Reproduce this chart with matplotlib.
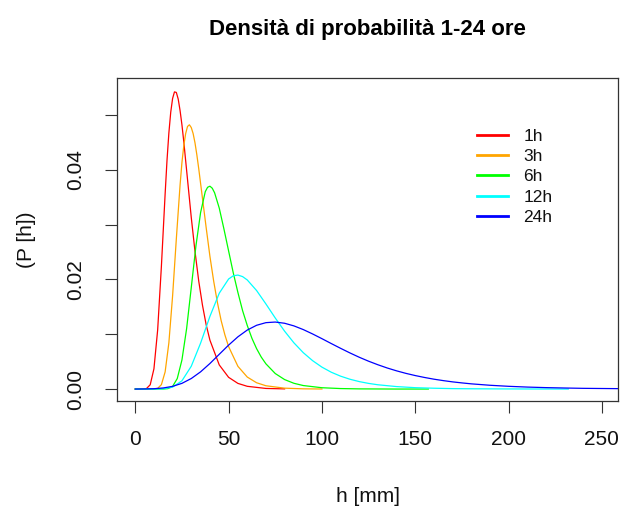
import matplotlib
matplotlib.use('Agg')
import matplotlib.pyplot as plt

plt.rcParams['font.family'] = ['Liberation Sans', 'DejaVu Sans']

# ---- data ----
x_1h = [0, 2, 4, 6, 8, 10, 12, 14, 16, 17, 18, 19, 20, 21, 22, 23, 24, 25, 26, 28, 30, 32,
        34, 36, 38, 40, 45, 50, 55, 60, 70, 80]
p_1h = [0, 0, 0, 0.00009, 0.00078, 0.00369, 0.01080, 0.02240, 0.03560, 0.04170, 0.04670,
        0.05050, 0.05300, 0.05420, 0.05410, 0.05290, 0.05080, 0.04820, 0.04510, 0.03820,
        0.03130, 0.02510, 0.01970, 0.01530, 0.01170, 0.00891, 0.00440, 0.00214, 0.00103,
        0.00050, 0.00011, 0.00003]

x_3h = [0, 4, 8, 10, 12, 14, 16, 18, 20, 22, 24, 25, 26, 27, 28, 29, 30, 31, 32, 33, 34,
        36, 38, 40, 42, 44, 46, 48, 50, 55, 60, 65, 70, 80, 90, 100]
p_3h = [0, 0, 0, 0.00001, 0.00013, 0.00080, 0.00313, 0.00843, 0.01700, 0.02740, 0.03720,
        0.04130, 0.04440, 0.04660, 0.04790, 0.04820, 0.04770, 0.04660, 0.04490, 0.04270,
        0.04020, 0.03480, 0.02940, 0.02420, 0.01970, 0.01580, 0.01250, 0.00990, 0.00775,
        0.00414, 0.00219, 0.00115, 0.00060, 0.00016, 0.00004, 0.00001]

x_6h = [0, 5, 10, 15, 17.5, 20, 22.5, 25, 27.5, 30, 32.5, 35, 37.5, 38.75, 40, 41.25,
        42.5, 45, 47.5, 50, 52.5, 55, 57.5, 60, 62.5, 65, 67.5, 70, 75, 80, 85, 90, 100,
        110, 120, 140, 157]
p_6h = [0, 0, 0, 0.00001, 0.00008, 0.00048, 0.00192, 0.00530, 0.01100, 0.01850, 0.02610,
        0.03220, 0.03600, 0.03680, 0.03700, 0.03663, 0.03580, 0.03300, 0.02920, 0.02520,
        0.02120, 0.01760, 0.01430, 0.01160, 0.00926, 0.00737, 0.00583, 0.00460, 0.00283,
        0.00173, 0.00105, 0.00064, 0.00024, 0.00009, 0.00003, 0.00000, 0.00000]

x_12h = [0, 5, 10, 15, 20, 25, 30, 35, 40, 45, 50, 52.5, 55, 57.5, 60, 65, 70, 75, 80, 85,
         90, 95, 100, 105, 110, 115, 120, 125, 130, 140, 150, 160, 170, 180, 200, 232]
p_12h = [0, 0, 0, 0.00005, 0.00035, 0.00150, 0.00416, 0.00838, 0.01326, 0.01748, 0.02007,
         0.02066, 0.02079, 0.02051, 0.01990, 0.01797, 0.01552, 0.01296, 0.01056, 0.00843,
         0.00664, 0.00518, 0.00400, 0.00307, 0.00235, 0.00179, 0.00136, 0.00103, 0.00078,
         0.00045, 0.00025, 0.00015, 0.00008, 0.00005, 0.00002, 0.00000]

x_24h = [0, 5, 10, 15, 20, 25, 30, 35, 40, 45, 50, 55, 60, 65, 70, 75, 80, 85, 90, 95,
         100, 105, 110, 115, 120, 125, 130, 135, 140, 145, 150, 155, 160, 165, 170, 175,
         180, 190, 200, 210, 220, 230, 240, 250, 260]
p_24h = [0.00000, 0.00002, 0.00006, 0.00020, 0.00049, 0.00104, 0.00192, 0.00314, 0.00466,
         0.00634, 0.00801, 0.00953, 0.01076, 0.01163, 0.01211, 0.01222, 0.01200, 0.01152,
         0.01085, 0.01005, 0.00919, 0.00830, 0.00743, 0.00659, 0.00580, 0.00508, 0.00443,
         0.00384, 0.00332, 0.00286, 0.00246, 0.00211, 0.00180, 0.00154, 0.00131, 0.00112,
         0.00095, 0.00069, 0.00050, 0.00036, 0.00026, 0.00019, 0.00013, 0.00010, 0.00007]

labels = ['1h', '3h', '6h', '12h', '24h']
colors = ['#FF0000', '#FFA500', '#00FF00', '#00FFFF', '#0000FF']

x_ticks = [0, 50, 100, 150, 200, 250]
y_ticks = [0.00, 0.01, 0.02, 0.03, 0.04, 0.05]
y_ticklabels = ['0.00', '', '0.02', '', '0.04', '']

title = 'Densità di probabilità 1-24 ore'
xlabel = 'h [mm]'
ylabel = '(P [h])'

# ---- figure ----
W, H = 621, 509
fig = plt.figure(figsize=(W / 100, H / 100), dpi=100)
L, R, T, B = 116.7, 618.3, 78.3, 401.0
ax = fig.add_axes([L / W, 1 - B / H, (R - L) / W, (B - T) / H])

series = [(x_1h, p_1h), (x_3h, p_3h), (x_6h, p_6h), (x_12h, p_12h), (x_24h, p_24h)]
handles = []
for (xs, ys), c, lab in zip(series, colors, labels):
    h, = ax.plot(xs, ys, color=c, lw=0.9, label=lab)
    handles.append(h)

ax.set_xlim(-9.95, 258.8)
ax.set_ylim(-0.00218, 0.05668)
ax.set_xticks(x_ticks)
ax.set_xticklabels([str(v) for v in x_ticks])
ax.set_yticks(y_ticks)
ax.set_yticklabels(y_ticklabels)

for s in ax.spines.values():
    s.set_color('#333333')
    s.set_linewidth(0.9)

ax.tick_params(axis='both', direction='out', length=8.6, width=0.8, color='#333333',
               labelsize=15, labelcolor='#111111')
ax.tick_params(axis='x', pad=12)
ax.tick_params(axis='y', pad=14, labelrotation=90)
for lab in ax.get_yticklabels():
    lab.set_va('center')

cx = (L + R) / 2 / W
fig.text(cx, 1 - 30 / H, title, ha='center', va='center', fontsize=16,
         fontweight='bold', color='#000000')
fig.text(cx, 1 - 496 / H, xlabel, ha='center', va='center', fontsize=15, color='#111111')
fig.text(27 / W, 1 - ((T + B) / 2) / H, ylabel, ha='center', va='center', fontsize=15,
         rotation=90, color='#111111')

leg = ax.legend(handles, labels, loc='upper left', bbox_to_anchor=(476.7 / W, 1 - 128.5 / H),
                bbox_transform=fig.transFigure, frameon=False, fontsize=12.5,
                handlelength=1.82, handletextpad=0.86, labelspacing=0.30,
                borderpad=0, borderaxespad=0)
for ln in leg.get_lines():
    ln.set_linewidth(2.0)
for t in leg.get_texts():
    t.set_color('#111111')

fig.savefig('out.png', dpi=100)
